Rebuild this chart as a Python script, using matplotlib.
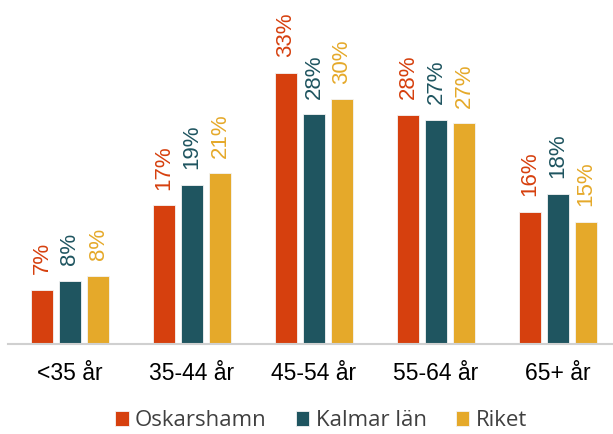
import matplotlib.pyplot as plt
import numpy as np

categories = ["<35 år", "35-44 år", "45-54 år", "55-64 år", "65+ år"]
series = ["Oskarshamn", "Kalmar län", "Riket"]
oskarshamn = [6.6, 16.9, 33.0, 27.9, 16.1]
kalmar = [7.7, 19.4, 28.0, 27.3, 18.3]
riket = [8.3, 20.8, 29.8, 26.9, 14.9]
labels_osk = ["7%", "17%", "33%", "28%", "16%"]
labels_kal = ["8%", "19%", "28%", "27%", "18%"]
labels_rik = ["8%", "21%", "30%", "27%", "15%"]

colors = ["#D6400E", "#1F5560", "#E5A92A"]

plt.rcParams['font.family'] = ['Liberation Sans', 'DejaVu Sans']

fig = plt.figure(figsize=(6.13, 4.34), dpi=100)
ax = fig.add_axes([8 / 613, 90 / 434, 605 / 613, 344 / 434])

x = np.arange(len(categories))
width = 0.18
step = 0.23
data = [oskarshamn, kalmar, riket]
labels = [labels_osk, labels_kal, labels_rik]
for i, (vals, labs) in enumerate(zip(data, labels)):
    pos = x + (i - 1) * step
    ax.bar(pos, vals, width, color=colors[i], edgecolor="#f4f4f4", linewidth=0.6,
           label=series[i])
    for p, v, t in zip(pos, vals, labs):
        ax.text(p, v + 1.9, t, rotation=90, ha="center", va="bottom",
                color=colors[i], fontsize=16)

ax.set_xlim(-0.508, 4.45)
ax.set_ylim(0, 41.9)
ax.set_yticks([])
ax.set_xticks(x)
ax.set_xticklabels(categories, fontsize=16.5, color="black")
ax.tick_params(axis="x", length=0, pad=13)
for s in ["top", "left", "right"]:
    ax.spines[s].set_visible(False)
ax.spines["bottom"].set_color("#d0d0d0")
ax.spines["bottom"].set_linewidth(1.5)

ax.legend(loc="center", bbox_to_anchor=(313 / 605, -77 / 344), ncol=3, frameon=False,
          prop={"family": "Open Sans", "size": 16}, handlelength=0.62, handleheight=0.62,
          handletextpad=0.28, columnspacing=1.3, labelcolor="#404040",
          borderpad=0.2)

fig.savefig("out.png", dpi=100)
